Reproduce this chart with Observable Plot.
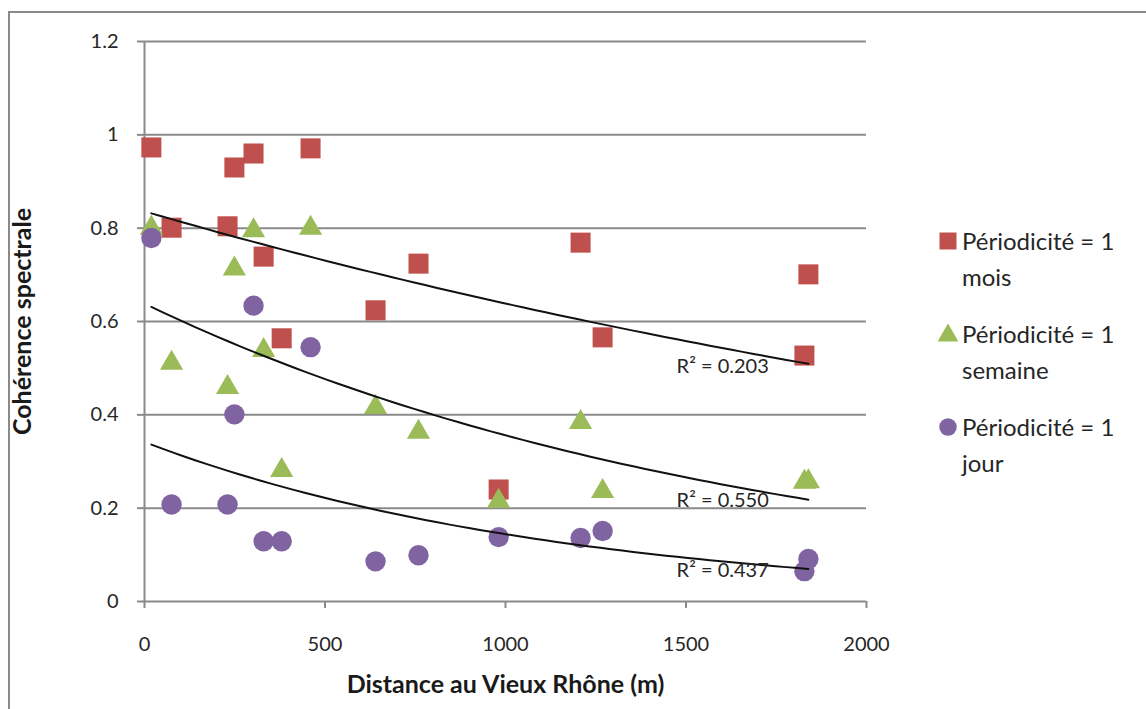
<!DOCTYPE html>
<html>
<head>
<meta charset="utf-8">
<script src="https://cdn.jsdelivr.net/npm/d3@7"></script>
<script src="https://cdn.jsdelivr.net/npm/@observablehq/plot@0.6"></script>
<style>
  html, body { margin: 0; padding: 0; background: #fff; }
  #wrap { position: relative; width: 1146px; height: 709px; overflow: hidden; font-family: Lato, "Open Sans", sans-serif; color: #262626; }
  #legend { position: absolute; left: 938px; top: 223px; width: 208px; font-size: 24px; line-height: 36px; }
  .item { display: flex; align-items: flex-start; margin-bottom: 21px; }
  .item svg { flex: none; margin-top: 8px; margin-right: 4px; }
</style>
</head>
<body>
<div id="wrap">
  <div id="chart"></div>
  <div id="legend"></div>
</div>
<script>
// Distances (m) shared by the three series
const distance = [19, 75, 230, 249, 302, 330, 380, 460, 640, 759, 981, 1208, 1269, 1828, 1839];
// Spectral coherence per periodicity
const mois    = [0.973, 0.801, 0.804, 0.930, 0.960, 0.739, 0.564, 0.971, 0.624, 0.724, 0.240, 0.769, 0.566, 0.527, 0.701];
const semaine = [0.800, 0.511, 0.459, 0.713, 0.795, 0.538, 0.281, 0.800, 0.416, 0.363, 0.215, 0.384, 0.236, 0.256, 0.257];
const jour    = [0.779, 0.208, 0.208, 0.401, 0.634, 0.129, 0.129, 0.545, 0.086, 0.099, 0.138, 0.136, 0.151, 0.065, 0.091];
const seriesNames = ["Périodicité = 1 mois", "Périodicité = 1 semaine", "Périodicité = 1 jour"];
const seriesColors = ["#C0504D", "#9BBB59", "#8064A2"];
const seriesSymbols = ["square", "triangle", "circle"];
const r2Labels = ["R² = 0.203", "R² = 0.550", "R² = 0.437"];
const r2LabelX = [1474, 1474, 1474];
const r2LabelY = [0.504, 0.216, 0.066];
const xTicks = [0, 500, 1000, 1500, 2000];
const yTicks = [0, 0.2, 0.4, 0.6, 0.8, 1, 1.2];

const allSeries = [mois, semaine, jour];
const tables = allSeries.map(vals => distance.map((d, i) => ({x: d, y: vals[i]})));

// Excel-style exponential trendline: ln(y) = ln(a) + b x (least squares)
function expFit(rows) {
  const xs = rows.map(d => d.x), ls = rows.map(d => Math.log(d.y));
  const mx = d3.mean(xs), ml = d3.mean(ls);
  const b = d3.sum(xs, (x, i) => (x - mx) * (ls[i] - ml)) / d3.sum(xs, x => (x - mx) ** 2);
  const a = Math.exp(ml - b * mx);
  const [x0, x1] = d3.extent(xs);
  return d3.range(0, 61).map(k => { const x = x0 + (x1 - x0) * k / 60; return {x, y: a * Math.exp(b * x)}; });
}
const trends = tables.map(expFit);

const font = "Lato, 'Open Sans', sans-serif";
const marks = [
  Plot.gridY(yTicks, {stroke: "#8a8a8a", strokeOpacity: 1, strokeWidth: 2}),
  Plot.axisY(yTicks, {tickSize: 7, tickPadding: 19, stroke: "#8a8a8a", strokeWidth: 2, fontSize: 20, label: null, tickFormat: d => String(d), fill: "#262626"}),
  Plot.axisX(xTicks, {tickSize: 7, tickPadding: 28, stroke: "#8a8a8a", strokeWidth: 2, fontSize: 20, label: null, tickFormat: d => String(d), fill: "#262626"}),
  Plot.ruleX([0], {stroke: "#8a8a8a", strokeWidth: 2}),
];
tables.forEach((t, i) => {
  marks.push(Plot.dot(t, {x: "x", y: "y", symbol: () => seriesSymbols[i], fill: seriesColors[i], stroke: "none",
    r: seriesSymbols[i] === "square" ? 11.3 : seriesSymbols[i] === "triangle" ? 8.6 : 10.2}));
});
trends.forEach(t => marks.push(Plot.line(t, {x: "x", y: "y", stroke: "#111", strokeWidth: 2})));
marks.push(Plot.text(r2Labels.map((s, i) => ({s, x: r2LabelX[i], y: r2LabelY[i]})), {x: "x", y: "y", text: "s", textAnchor: "start", fontSize: 20, fill: "#262626"}));
marks.push(Plot.text(["Cohérence spectrale"], {frameAnchor: "left", textAnchor: "middle", dx: -122, rotate: -90, fontSize: 25, fontWeight: "bold", fill: "#1a1a1a"}));
marks.push(Plot.text(["Distance au Vieux Rhône (m)"], {frameAnchor: "bottom", textAnchor: "middle", dy: 91, fontSize: 25, fontWeight: "bold", fill: "#1a1a1a"}));

const chart = Plot.plot({
  width: 1146, height: 709,
  marginLeft: 144, marginRight: 280, marginTop: 41, marginBottom: 108,
  style: {fontFamily: font, background: "#fff", overflow: "visible"},
  x: {domain: [0, 2000]},
  y: {domain: [0, 1.2]},
  symbol: {type: "identity"},
  marks
});
document.getElementById("chart").appendChild(chart);
// outer chart frame (top and left edges visible)
d3.select(chart).append("path").attr("d", "M9,709V12H1146").attr("fill", "none").attr("stroke", "#8a8a8a").attr("stroke-width", 2);

// legend
const leg = d3.select("#legend");
seriesNames.forEach((name, i) => {
  const it = leg.append("div").attr("class", "item");
  const sw = it.append("svg").attr("width", 20).attr("height", 20);
  const sym = {square: d3.symbolSquare, triangle: d3.symbolTriangle, circle: d3.symbolCircle}[seriesSymbols[i]];
  const size = seriesSymbols[i] === "square" ? 289 : seriesSymbols[i] === "triangle" ? 190 : 240;
  sw.append("path").attr("transform", seriesSymbols[i] === "triangle" ? "translate(10,11.5)" : "translate(10,10)")
    .attr("d", d3.symbol(sym, size)()).attr("fill", seriesColors[i]);
  const parts = name.split(" ");
  it.append("div").html(parts.slice(0, 3).join(" ") + "<br>" + parts.slice(3).join(" "));
});
</script>
</body>
</html>
